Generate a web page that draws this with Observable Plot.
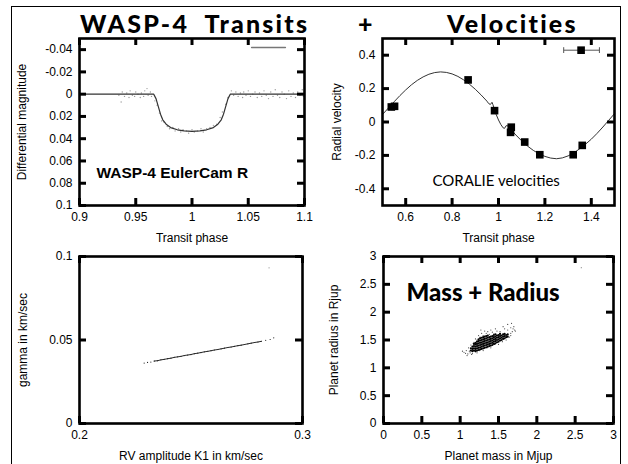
<!DOCTYPE html>
<html><head><meta charset="utf-8">
<script src="https://cdn.jsdelivr.net/npm/d3@7"></script>
<script src="https://cdn.jsdelivr.net/npm/@observablehq/plot@0.6"></script>
<style>
body{margin:0;background:#fff;overflow:hidden}
#wrap{position:relative;width:628px;height:464px;overflow:hidden;background:#fff}
#border{position:absolute;left:11px;top:6px;width:608px;height:480px;border:1px solid #000}
.panel{position:absolute}
.title{position:absolute;font-family:Lato,"Open Sans",sans-serif;font-weight:900;font-size:25px;letter-spacing:2.2px;line-height:1;white-space:pre;color:#000}
</style></head><body>
<div id="wrap"><div id="border"></div>
<div class="title" style="left:80px;top:11px">WASP-4  Transits</div>
<div class="title" style="left:358px;top:11px">+</div>
<div class="title" style="left:447px;top:11px">Velocities</div>
</div>
<script>
// ---------- data ----------
const photometry = [
[0.935,0.001],[0.937,0.007],[0.938,-0.002],[0.940,0.002],[0.942,-0.001],[0.944,0.003],[0.945,-0.003],[0.947,0.001],[0.949,0.002],[0.950,-0.002],[0.952,0.000],[0.954,0.003],[0.955,-0.001],[0.957,0.002],[0.958,-0.003],[0.960,-0.005],[0.961,0.001],[0.963,-0.002],[0.964,0.002],
[0.967,0.006],[0.969,0.010],[0.971,0.017],[0.973,0.024],[0.975,0.025],[0.978,0.029],[0.980,0.031],[0.983,0.030],[0.985,0.033],[0.988,0.031],[0.990,0.034],[0.992,0.032],[0.995,0.033],[0.997,0.035],[1.000,0.032],[1.002,0.034],[1.005,0.033],[1.008,0.031],[1.010,0.034],[1.013,0.031],[1.016,0.030],[1.019,0.028],[1.022,0.027],[1.025,0.021],[1.027,0.016],[1.030,0.009],[1.032,0.003],
[1.035,-0.003],[1.037,0.001],[1.039,-0.002],[1.041,0.002],[1.043,-0.001],[1.045,0.003],[1.046,-0.002],[1.048,0.001],[1.050,-0.003],[1.052,0.002],[1.054,0.000],[1.056,-0.002],[1.058,0.003],[1.060,-0.001],[1.062,0.002],[1.064,-0.003],[1.066,0.001],[1.068,0.004],[1.070,-0.002],[1.072,0.002],[1.074,-0.004],[1.076,0.001],[1.078,0.003],[1.080,-0.002],[1.082,0.000],[1.084,0.004],[1.086,-0.003],[1.088,0.002],[1.090,-0.001],[1.092,0.003],[1.094,-0.002],[1.096,0.001],[1.098,-0.004],[1.099,0.002]
];
const transitModel = [
[0.900,0],[0.966,0],[0.968,0.004],[0.970,0.011],[0.972,0.018],[0.974,0.023],[0.977,0.027],[0.981,0.030],[0.987,0.032],[0.993,0.033],[1.000,0.0335],[1.007,0.033],[1.013,0.032],[1.019,0.030],[1.023,0.027],[1.026,0.023],[1.028,0.018],[1.030,0.011],[1.032,0.004],[1.034,0],[1.100,0]
];
const transitKey = [[1.053,-0.042],[1.083,-0.042]];

const rvData = [[0.538,0.090],[0.552,0.094],[0.869,0.252],[0.983,0.068],[1.055,-0.031],[1.052,-0.062],[1.113,-0.120],[1.178,-0.196],[1.322,-0.196],[1.361,-0.140]];
const rvModel = [
[0.50,0.045],[0.525,0.083],[0.55,0.121],[0.575,0.158],[0.60,0.192],[0.625,0.223],[0.65,0.249],[0.675,0.270],[0.70,0.286],[0.725,0.296],[0.75,0.300],[0.775,0.297],[0.80,0.288],[0.825,0.273],[0.85,0.252],[0.875,0.226],[0.90,0.196],[0.925,0.162],[0.95,0.125],[0.958,0.110],[0.965,0.105],[0.972,0.118],[0.976,0.104],[0.983,0.075],[0.99,0.045],[1.0,0.012],[1.01,-0.015],[1.02,-0.035],[1.026,-0.038],[1.033,-0.022],[1.04,-0.023],[1.05,-0.040],[1.075,-0.078],[1.10,-0.113],[1.125,-0.144],[1.15,-0.170],[1.175,-0.191],[1.20,-0.206],[1.225,-0.216],[1.25,-0.220],[1.275,-0.215],[1.30,-0.203],[1.325,-0.185],[1.35,-0.160],[1.375,-0.133],[1.40,-0.103],[1.425,-0.068],[1.45,-0.030],[1.475,0.010],[1.50,0.050]
];
const rvKey = [[1.356,0.43,1.281,1.435]];

const k1Gamma = [
[0.2290,0.0362],[0.2305,0.0366],[0.2320,0.0368],[0.2335,0.0374],[0.2350,0.0376],[0.2365,0.0381],[0.2380,0.0384],[0.2395,0.0388],[0.2410,0.0391],[0.2425,0.0396],[0.2440,0.0399],[0.2455,0.0402],[0.2470,0.0407],[0.2485,0.0410],[0.2500,0.0413],[0.2515,0.0418],[0.2530,0.0421],[0.2545,0.0425],[0.2560,0.0429],[0.2575,0.0432],[0.2590,0.0436],[0.2605,0.0440],[0.2620,0.0443],[0.2635,0.0447],[0.2650,0.0451],[0.2665,0.0455],[0.2680,0.0458],[0.2695,0.0462],[0.2710,0.0466],[0.2725,0.0469],[0.2740,0.0473],[0.2755,0.0477],[0.2770,0.0481],[0.2785,0.0485],[0.2800,0.0488],[0.2815,0.0492],[0.2835,0.0498],[0.2855,0.0503],[0.2871,0.0513]
];
const k1GammaKey = [[0.285,0.0932]];

// dense core of the mass-radius cloud: [mass, [radius samples]]
const massRadiusCore = [
[1.14,[1.31,1.35]],[1.16,[1.30,1.34,1.38]],[1.18,[1.31,1.35,1.39,1.43]],[1.20,[1.30,1.34,1.38,1.42,1.45]],
[1.22,[1.31,1.35,1.39,1.43,1.47]],[1.24,[1.32,1.36,1.40,1.44,1.48,1.51]],[1.26,[1.33,1.37,1.41,1.45,1.49,1.53]],
[1.28,[1.34,1.38,1.42,1.46,1.50,1.54]],[1.30,[1.35,1.39,1.43,1.47,1.51,1.55]],[1.32,[1.36,1.40,1.44,1.48,1.52,1.56]],
[1.34,[1.37,1.41,1.45,1.49,1.53,1.57]],[1.36,[1.38,1.42,1.46,1.50,1.54,1.58]],[1.38,[1.39,1.43,1.47,1.51,1.55]],
[1.40,[1.40,1.44,1.48,1.52,1.56]],[1.42,[1.41,1.45,1.49,1.53,1.57]],[1.44,[1.43,1.47,1.51,1.55,1.59]],
[1.46,[1.44,1.48,1.52,1.56,1.60]],[1.48,[1.46,1.50,1.54,1.58]],[1.50,[1.47,1.51,1.55,1.59]],[1.52,[1.49,1.53,1.57,1.61]],
[1.54,[1.50,1.54,1.58]],[1.56,[1.52,1.56,1.60]],[1.58,[1.53,1.57,1.61]],[1.60,[1.55,1.59]],[1.62,[1.56,1.60]]
];
const massRadiusSparse = [
[1.05,1.28],[1.08,1.31],[1.10,1.25],[1.12,1.30],[1.14,1.41],[1.13,1.27],[1.18,1.46],[1.22,1.50],[1.26,1.55],[1.30,1.58],[1.34,1.62],[1.38,1.60],[1.42,1.64],[1.48,1.66],[1.52,1.65],[1.58,1.70],[1.62,1.68],[1.66,1.72],[1.68,1.65],[1.70,1.74],[1.64,1.55],[1.60,1.50],[1.55,1.47],[1.45,1.42],[1.35,1.36],[1.25,1.31],[1.20,1.29],[1.16,1.26],[1.09,1.22],[1.66,1.62],[1.71,1.68],
[1.20,1.52],[1.24,1.58],[1.28,1.62],[1.32,1.66],[1.40,1.68],[1.46,1.70],[1.56,1.74],[1.62,1.78],[1.67,1.80],[1.69,1.70],[1.72,1.66],[1.66,1.58],[1.50,1.42],[1.40,1.36],[1.30,1.31],[1.22,1.27],[1.15,1.24],[1.07,1.26],[1.03,1.30],[1.11,1.36],[1.17,1.44],[1.27,1.68],[1.36,1.65],[1.44,1.61]
];
const massRadiusKey = [[2.58,2.80]];

// tick values
const lcXTicks = [0.9,0.95,1,1.05,1.1];
const lcYTicks = [-0.04,-0.02,0,0.02,0.04,0.06,0.08,0.1];
const rvXTicks = [0.6,0.8,1,1.2,1.4];
const rvYTicks = [-0.4,-0.2,0,0.2,0.4];
const kgXTicks = [0.2,0.3];
const kgYTicks = [0,0.05,0.1];
const mrTicks = [0,0.5,1,1.5,2,2.5,3];

// ---------- drawing ----------
const fmt = d => String(d);
const TL = 7; // inward tick length in px
// labelled axes + gnuplot-style inward ticks on all four sides (tick length converted to data units)
function axes(xd, yd, W, H, yRev, xt, yt, xLabel, yLabel, xOff, yOff) {
  const t = {stroke: "#000", strokeWidth: 3};
  const ex = (xd[1] - xd[0]) * TL / W;
  const ey = (yd[1] - yd[0]) * TL / H;
  const yBot = yRev ? yd[1] : yd[0], yTop = yRev ? yd[0] : yd[1], s = yRev ? -1 : 1;
  return [
    Plot.axisX({anchor: "bottom", ticks: xt, tickSize: 0, tickFormat: fmt, tickPadding: 7, label: xLabel, labelAnchor: "center", labelArrow: "none", labelOffset: xOff}),
    Plot.axisY({anchor: "left", ticks: yt, tickSize: 0, tickFormat: fmt, tickPadding: 7, label: yLabel, labelAnchor: "center", labelArrow: "none", labelOffset: yOff}),
    Plot.ruleX(xt, {x: d => d, y1: yBot, y2: yBot + s * ey, ...t}),
    Plot.ruleX(xt, {x: d => d, y1: yTop, y2: yTop - s * ey, ...t}),
    Plot.ruleY(yt, {y: d => d, x1: xd[0], x2: xd[0] + ex, ...t}),
    Plot.ruleY(yt, {y: d => d, x1: xd[1], x2: xd[1] - ex, ...t}),
    Plot.frame({stroke: "#000", strokeWidth: 2.6})
  ];
}
function place(svg, left, top) {
  const d = document.createElement("div");
  d.className = "panel";
  d.style.left = left + "px"; d.style.top = top + "px";
  d.appendChild(svg);
  document.getElementById("wrap").appendChild(d);
}
const base = {style: {fontFamily: "'Liberation Sans', Arial, sans-serif", fontSize: "12px"}};

// Panel 1: transit
const lcX = [0.9, 1.1], lcY = [-0.05, 0.1];
place(Plot.plot({
  ...base, width: 314, height: 248, marginLeft: 79, marginRight: 10, marginTop: 38, marginBottom: 43,
  x: {domain: lcX}, y: {domain: lcY, reverse: true},
  marks: [
    Plot.dot(photometry, {x: d => d[0], y: d => d[1], r: 0.7, fill: "#999", stroke: null}),
    Plot.line(transitModel, {x: d => d[0], y: d => d[1], stroke: "#333", strokeWidth: 1.2}),
    Plot.line(transitKey, {x: d => d[0], y: d => d[1], stroke: "#777", strokeWidth: 1.5}),
    Plot.text(["WASP-4 EulerCam R"], {frameAnchor: "bottom-left", dx: 17, dy: -28, textAnchor: "start", fontWeight: "bold", fontSize: 15.5}),
    ...axes(lcX, lcY, 225, 167, true, lcXTicks, lcYTicks, "Transit phase", "Differential magnitude", 36, 62)
  ]
}), 0, 0);

// Panel 2: RV
const rvX = [0.5, 1.5], rvY = [-0.5, 0.5];
place(Plot.plot({
  ...base, width: 314, height: 248, marginLeft: 68, marginRight: 14, marginTop: 38, marginBottom: 43,
  x: {domain: rvX}, y: {domain: rvY},
  marks: [
    Plot.line(rvModel, {x: d => d[0], y: d => d[1], stroke: "#333", strokeWidth: 1}),
    Plot.dot(rvData, {x: d => d[0], y: d => d[1], symbol: "square", r: 4.3, fill: "#000", stroke: null}),
    Plot.link(rvKey, {x1: d => d[2], x2: d => d[3], y1: d => d[1], y2: d => d[1], stroke: "#555", strokeWidth: 1, markerStart: "tick-y", markerEnd: "tick-y"}),
    Plot.dot(rvKey, {x: d => d[0], y: d => d[1], symbol: "square", r: 4.3, fill: "#000", stroke: null}),
    Plot.text(["CORALIE velocities"], {frameAnchor: "bottom-left", dx: 50, dy: -20, textAnchor: "start", fontFamily: "Lato, 'Open Sans', sans-serif", fontSize: 15}),
    ...axes(rvX, rvY, 232, 167, false, rvXTicks, rvYTicks, "Transit phase", "Radial velocity", 36, 50)
  ]
}), 314, 0);

// Panel 3: K1 vs gamma
const kgX = [0.2, 0.3], kgY = [0, 0.1];
place(Plot.plot({
  ...base, width: 314, height: 216, marginLeft: 79, marginRight: 12, marginTop: 8, marginBottom: 41,
  x: {domain: kgX}, y: {domain: kgY},
  marks: [
    Plot.line(k1Gamma.slice(3, 36), {x: d => d[0], y: d => d[1], stroke: "#111", strokeWidth: 0.9}),
    Plot.dot(k1Gamma, {x: d => d[0], y: d => d[1], r: 0.6, fill: "#222", stroke: null}),
    Plot.dot(k1GammaKey, {x: d => d[0], y: d => d[1], r: 0.6, fill: "#888", stroke: null}),
    ...axes(kgX, kgY, 223, 167, false, kgXTicks, kgYTicks, "RV amplitude K1 in km/sec", "gamma in km/sec", 36, 61)
  ]
}), 0, 248);

// Panel 4: mass radius
const mrX = [0, 3], mrY = [0, 3];
const coreFlat = massRadiusCore.flatMap(([m, rs]) => rs.map(r => [m, r]));
place(Plot.plot({
  ...base, width: 314, height: 216, marginLeft: 69, marginRight: 15, marginTop: 8, marginBottom: 41,
  x: {domain: mrX}, y: {domain: mrY},
  marks: [
    Plot.dot(massRadiusSparse, {x: d => d[0], y: d => d[1], r: 0.6, fill: "#444", stroke: null}),
    Plot.dot(coreFlat, {x: d => d[0], y: d => d[1], r: 1.1, fill: "#000", stroke: null}),
    Plot.dot(massRadiusKey, {x: d => d[0], y: d => d[1], r: 0.6, fill: "#888", stroke: null}),
    Plot.text(["Mass + Radius"], {frameAnchor: "top-left", dx: 23, dy: 27, textAnchor: "start", fontFamily: "Lato, 'Open Sans', sans-serif", fontWeight: 900, fontSize: 24}),
    ...axes(mrX, mrY, 230, 167, false, mrTicks, mrTicks, "Planet mass in Mjup", "Planet radius in Rjup", 36, 54)
  ]
}), 314, 248);
</script>
</body></html>
